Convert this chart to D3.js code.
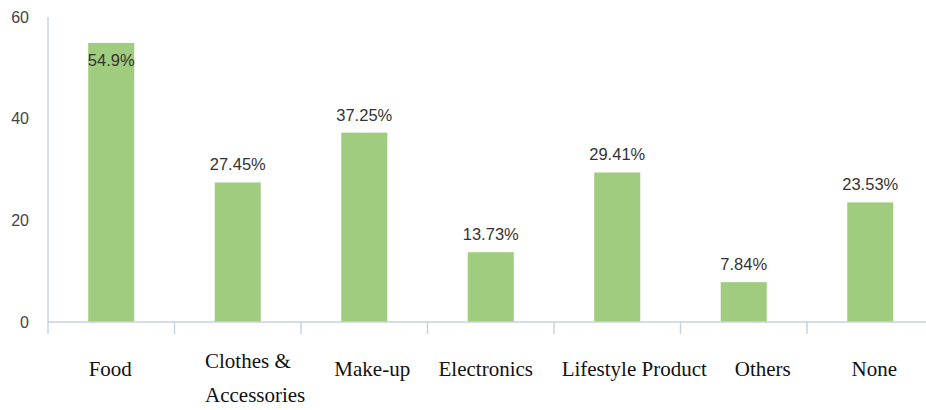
<!DOCTYPE html>
<html>
<head>
<meta charset="utf-8">
<script src="https://cdn.jsdelivr.net/npm/d3@7/dist/d3.min.js"></script>
<style>
  html, body { margin: 0; padding: 0; background: #fff; }
  svg { display: block; }
</style>
</head>
<body>
<svg id="chart" width="926" height="410"></svg>
<script>
// Share of respondents per purchase category (percent)
const categories = ["Food", "Clothes & Accessories", "Make-up", "Electronics", "Lifestyle Product", "Others", "None"];
const categoryLines = [["Food"], ["Clothes &", "Accessories"], ["Make-up"], ["Electronics"], ["Lifestyle Product"], ["Others"], ["None"]];
const values = [54.9, 27.45, 37.25, 13.73, 29.41, 7.84, 23.53];
const valueLabels = ["54.9%", "27.45%", "37.25%", "13.73%", "29.41%", "7.84%", "23.53%"];
const yTicks = [0, 20, 40, 60];

const svg = d3.select("#chart");
const axisColor = "#c8d2e3";
const barColor = "#a0cc80";

const left = 48, bandW = 126.5;
const x = d3.scaleBand()
  .domain(categories)
  .range([left, left + bandW * categories.length])
  .paddingInner(0.636)
  .paddingOuter(0.318);

const y = d3.scaleLinear().domain([0, 60]).range([322, 17]);

// y axis line and tick labels
svg.append("line")
  .attr("x1", left).attr("x2", left)
  .attr("y1", y(60)).attr("y2", y(0))
  .attr("stroke", axisColor).attr("stroke-width", 1.5);

svg.append("g").selectAll("text")
  .data(yTicks)
  .join("text")
  .attr("x", 29)
  .attr("y", d => y(d))
  .attr("dy", "0.35em")
  .attr("text-anchor", "end")
  .attr("font-family", "Liberation Sans, Arial, sans-serif")
  .attr("font-size", 16)
  .attr("fill", "#444")
  .text(d => d);

// bars
svg.append("g").selectAll("rect")
  .data(values)
  .join("rect")
  .attr("x", (d, i) => x(categories[i]))
  .attr("y", d => y(d))
  .attr("width", x.bandwidth())
  .attr("height", d => y(0) - y(d))
  .attr("fill", barColor);

// baseline and category separators
svg.append("line")
  .attr("x1", left).attr("x2", 926)
  .attr("y1", y(0)).attr("y2", y(0))
  .attr("stroke", axisColor).attr("stroke-width", 1.5);

const sepX = d3.range(categories.length + 1).map(i => left + i * bandW);
svg.append("g").selectAll("line")
  .data(sepX)
  .join("line")
  .attr("x1", d => d).attr("x2", d => d)
  .attr("y1", y(0)).attr("y2", y(0) + 12)
  .attr("stroke", axisColor).attr("stroke-width", 1.5);

// value labels above bars (kept inside the plot near the top)
svg.append("g").selectAll("text")
  .data(values)
  .join("text")
  .attr("x", (d, i) => x(categories[i]) + x.bandwidth() / 2)
  .attr("y", d => Math.max(y(d) - 12, 66))
  .attr("text-anchor", "middle")
  .attr("font-family", "Liberation Sans, Arial, sans-serif")
  .attr("font-size", 16.5)
  .attr("fill", "#333")
  .text((d, i) => valueLabels[i]);

// category labels, set slightly off the band centres
const labelNudge = [-1, 0, 8, -5, 17, 19, 4];
const catG = svg.append("g").selectAll("text")
  .data(categories)
  .join("text")
  .attr("y", (d, i) => categoryLines[i].length > 1 ? 368 : 376)
  .attr("font-family", "Liberation Serif, 'Times New Roman', serif")
  .attr("font-size", 21)
  .attr("fill", "#111");

catG.each(function(d, i) {
  const t = d3.select(this);
  const lines = categoryLines[i];
  const cx = x(d) + x.bandwidth() / 2 + labelNudge[i];
  if (lines.length > 1) {
    // stacked label, left-aligned block
    t.attr("text-anchor", "start");
    lines.forEach((line, j) => {
      t.append("tspan")
        .attr("x", 205)
        .attr("dy", j === 0 ? 0 : 34)
        .text(line);
    });
  } else {
    t.attr("text-anchor", "middle")
      .append("tspan").attr("x", cx).text(lines[0]);
  }
});
</script>
</body>
</html>
